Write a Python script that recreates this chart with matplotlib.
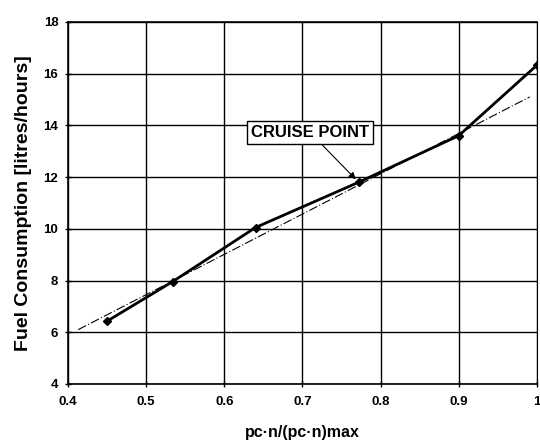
import matplotlib.pyplot as plt

plt.rcParams["font.family"] = ["Liberation Sans", "DejaVu Sans"]

# measured points
load = [0.45, 0.534, 0.64, 0.772, 0.90, 1.0]
fuel = [6.43, 7.96, 10.05, 11.8, 13.6, 16.32]

# thin trend line (end points)
trend_x = [0.413, 0.991]
trend_y = [6.1, 15.1]

xticks = [0.4, 0.5, 0.6, 0.7, 0.8, 0.9, 1.0]
xticklabels = ["0.4", "0.5", "0.6", "0.7", "0.8", "0.9", "1"]
yticks = [4, 6, 8, 10, 12, 14, 16, 18]

fig = plt.figure(figsize=(5.4, 4.47), dpi=100)
ax = fig.add_axes([0.126, 0.141, 0.868, 0.810])

ax.plot(trend_x, trend_y, color="black", lw=0.8, ls=(0, (8, 2, 1, 2)), zorder=3)
ax.plot(load, fuel, color="black", lw=2, marker="D", ms=4.5, zorder=4)

ax.set_xlim(0.4, 1.0)
ax.set_ylim(4, 18)
ax.set_xticks(xticks)
ax.set_xticklabels(xticklabels)
ax.set_yticks(yticks)
ax.grid(True, color="black", lw=1.0)
ax.tick_params(direction="inout", length=4, width=1, labelsize=9.5)
ax.tick_params(axis="x", pad=7)
ax.tick_params(axis="y", pad=5)
for lbl in ax.get_xticklabels() + ax.get_yticklabels():
    lbl.set_fontweight("bold")

for s in ["left", "bottom", "top"]:
    ax.spines[s].set_linewidth(1.2)
ax.spines["right"].set_linestyle((0, (2, 1)))
ax.spines["right"].set_linewidth(0.8)

ax.set_ylabel("Fuel Consumption [litres/hours]", fontsize=14, fontweight="bold", labelpad=8)
ax.set_xlabel("pc\u00b7n/(pc\u00b7n)max", fontsize=11.5, fontweight="bold", labelpad=12)

ax.annotate("CRUISE POINT", xy=(load[3], fuel[3]), xytext=(0.7096, 13.73),
            ha="center", va="center", fontsize=12, fontweight="bold",
            bbox=dict(boxstyle="square,pad=0.25", fc="white", ec="black", lw=1),
            arrowprops=dict(arrowstyle="-|>", color="black", lw=0.8,
                            shrinkA=0, shrinkB=3, mutation_scale=10),
            zorder=5)

fig.savefig("out.png", dpi=100)
